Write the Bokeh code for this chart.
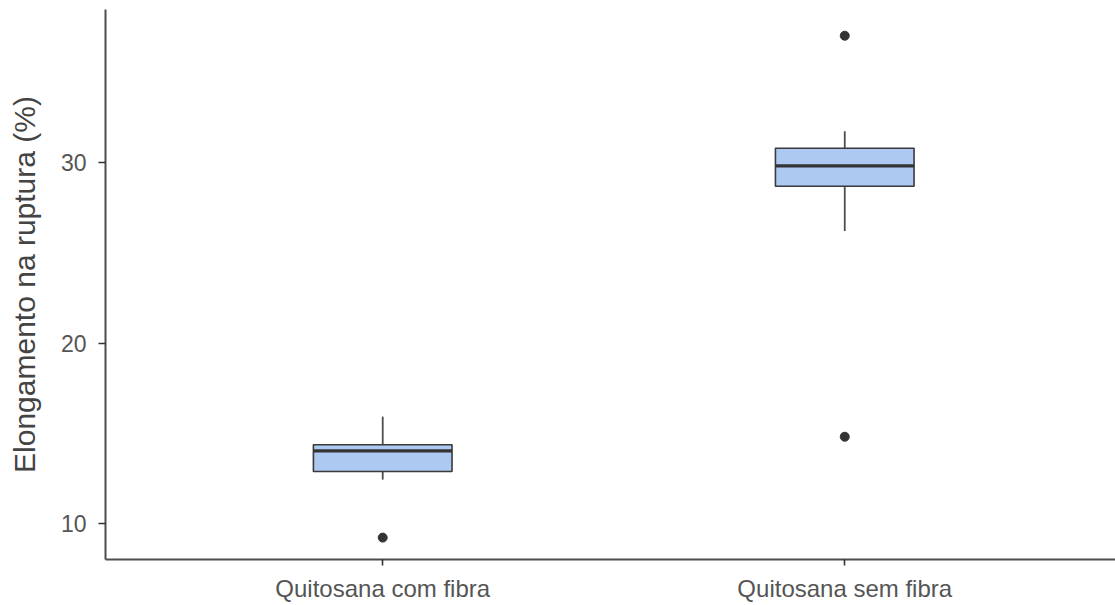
from bokeh.plotting import figure
from bokeh.models import Range1d, FixedTicker, ColumnDataSource
from bokeh.embed import file_html
from bokeh.resources import INLINE

# Data
categories = ["Quitosana com fibra", "Quitosana sem fibra"]
lower_whisker = [12.45, 26.2]
q1 = [12.9, 28.67]
median = [14.04, 29.8]
q3 = [14.38, 30.78]
upper_whisker = [15.93, 31.72]
outlier_group = ["Quitosana com fibra", "Quitosana sem fibra", "Quitosana sem fibra"]
outlier_values = [9.24, 37.0, 14.82]
y_ticks = [10, 20, 30]

pos = {c: i + 1 for i, c in enumerate(categories)}
xs = [pos[c] for c in categories]
box_w = 0.3

src = ColumnDataSource(dict(
    x=xs, lw=lower_whisker, q1=q1, med=median, q3=q3, uw=upper_whisker,
    x0=[x - box_w / 2 for x in xs], x1=[x + box_w / 2 for x in xs],
))
osrc = ColumnDataSource(dict(x=[pos[c] for c in outlier_group], y=outlier_values))

p = figure(width=1115, height=605, output_backend="svg", toolbar_location=None,
           x_range=Range1d(0.4, 2.586), y_range=Range1d(8.03, 38.45),
           min_border_left=105, min_border_right=0, min_border_top=9,
           min_border_bottom=46)
p.outline_line_color = None
p.background_fill_color = "white"
p.border_fill_color = "white"
p.xgrid.visible = False
p.ygrid.visible = False

# whiskers
p.segment(x0="x", x1="x", y0="q3", y1="uw", source=src, line_color="#4d4d4d", line_width=1.8)
p.segment(x0="x", x1="x", y0="lw", y1="q1", source=src, line_color="#4d4d4d", line_width=1.8)
# boxes
p.vbar(x="x", width=box_w, bottom="q1", top="q3", source=src,
       fill_color="#adc9f2", line_color="#3a3a3a", line_width=1.6)
# medians
p.segment(x0="x0", x1="x1", y0="med", y1="med", source=src, line_color="#333333", line_width=3.2)
# outliers
p.scatter(x="x", y="y", source=osrc, size=9, fill_color="#333333", line_color="#333333")

axis_col = "#4d4d4d"
for ax in (p.xaxis[0], p.yaxis[0]):
    ax.axis_line_color = axis_col
    ax.axis_line_width = 2
    ax.major_tick_line_color = "#333333"
    ax.major_tick_line_width = 1.6
    ax.major_tick_out = 6
    ax.major_tick_in = 0
    ax.minor_tick_line_color = None
    ax.major_label_text_font = "Liberation Sans"
    ax.major_label_text_font_size = "23px"
    ax.major_label_text_color = "#555555"

p.xaxis.ticker = FixedTicker(ticks=xs)
p.xaxis.major_label_overrides = {pos[c]: c for c in categories}
p.xaxis.major_label_standoff = 9
p.xaxis.major_label_text_font_size = "24px"

p.yaxis.ticker = FixedTicker(ticks=y_ticks)
p.yaxis.major_label_standoff = 12
p.yaxis.major_tick_out = 7
p.yaxis.axis_label = "Elongamento na ruptura (%)"
p.yaxis.axis_label_text_font = "Liberation Sans"
p.yaxis.axis_label_text_font_size = "30px"
p.yaxis.axis_label_text_font_style = "normal"
p.yaxis.axis_label_text_color = "#444444"
p.yaxis.axis_label_standoff = 17

open("out.html", "w").write(file_html(p, INLINE))
